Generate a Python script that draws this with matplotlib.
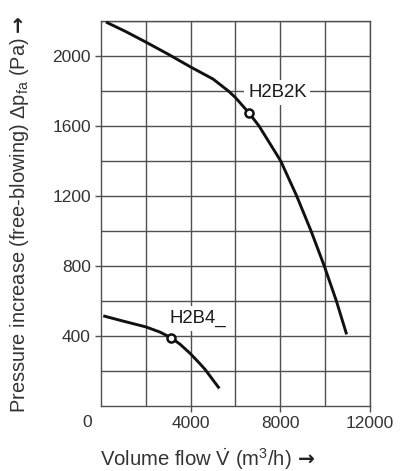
import matplotlib
matplotlib.use("Agg")
import matplotlib.pyplot as plt

# Data
h2b2k_flow = [223, 1100, 1993, 3000, 4000, 5000, 5681, 6000, 6602, 7048, 8016, 8728, 9368, 9958, 10498, 10957]
h2b2k_pres = [2194, 2140, 2080, 2010, 1937, 1868, 1800, 1762, 1674, 1600, 1400, 1200, 1000, 800, 600, 408]
h2b2k_pt = (6602, 1674)
h2b4_flow = [103, 923, 1993, 2632, 3123, 3524, 3970, 4416, 4640, 5278]
h2b4_pres = [514, 486, 451, 421, 389, 352, 300, 240, 208, 99]
h2b4_pt = (3123, 389)
labels = ['H2B2K', 'H2B4_']
label_pos = [(7871, 1790), (4305, 497)]
xticks = [4000, 8000, 12000]
yticks = [400, 800, 1200, 1600, 2000]

plt.rcParams['font.family'] = ['Liberation Sans', 'DejaVu Sans']
plt.rcParams['mathtext.fontset'] = 'custom'
plt.rcParams['mathtext.rm'] = 'Liberation Sans'
plt.rcParams['mathtext.it'] = 'Liberation Sans:italic'
plt.rcParams['mathtext.bf'] = 'Liberation Sans:bold'

txt_c = '#333333'
grid_c = '#505050'
W, H = 402, 471

fig = plt.figure(figsize=(4.02, 4.71), dpi=100)
ax = fig.add_axes([0.2512, 0.1386, 0.6692, 0.8168])
ax.set_xlim(0, 12000)
ax.set_ylim(0, 2200)

for x in range(2000, 12001, 2000):
    ax.axvline(x, color=grid_c, lw=1.0, zorder=1)
for y in range(200, 2201, 200):
    ax.axhline(y, color=grid_c, lw=1.0, zorder=1)
for s in ax.spines.values():
    s.set_color(grid_c)
    s.set_linewidth(1.0)

ax.set_xticks(xticks)
ax.set_xticklabels([str(v) for v in xticks])
ax.set_yticks(yticks)
ax.set_yticklabels([str(v) for v in yticks])
ax.tick_params(direction='out', length=4.3, width=1.0, color=grid_c,
               labelsize=12.5, labelcolor=txt_c, pad=3)
ax.annotate('0', xy=(0, 0), xycoords='data', xytext=(-14, -16.5),
            textcoords='offset pixels', ha='center', va='center',
            fontsize=12.5, color=txt_c, annotation_clip=False)

ax.plot(h2b2k_flow, h2b2k_pres, color='#111111', lw=2.1, zorder=3,
        solid_capstyle='butt', solid_joinstyle='round')
ax.plot(h2b4_flow, h2b4_pres, color='#111111', lw=2.1, zorder=3,
        solid_capstyle='butt', solid_joinstyle='round')
ax.plot(*h2b2k_pt, 'o', ms=5.8, mfc='white', mec='#111111', mew=1.8, zorder=4)
ax.plot(*h2b4_pt, 'o', ms=5.8, mfc='white', mec='#111111', mew=1.8, zorder=4)

bb = dict(facecolor='white', edgecolor='none', boxstyle='square,pad=0.2')
for lab, (lx, ly) in zip(labels, label_pos):
    ax.text(lx, ly, lab, ha='center', va='center', fontsize=13.4,
            color='#1a1a1a', bbox=bb, zorder=5)

# axis titles with heavier arrows
yl = fig.text(25 / W, 1 - 413 / H,
              'Pressure increase (free-blowing) Δp$_{\\mathrm{fa}}$ (Pa)',
              rotation=90, rotation_mode='anchor', ha='left', va='baseline',
              fontsize=14.4, color=txt_c)
xl = fig.text(100 / W, 1 - 465.5 / H, 'Volume flow $\\dot{\\mathrm{V}}$ (m$^3$/h)',
              ha='left', va='baseline', fontsize=14.6, color=txt_c)
r = fig.canvas.get_renderer()
ybb = yl.get_window_extent(r)
xbb = xl.get_window_extent(r)
fig.text(25 / W, (ybb.y1 + 5) / H, '→', rotation=90, rotation_mode='anchor',
         ha='left', va='baseline', fontsize=14.5, fontweight='bold',
         family='DejaVu Sans', color='#222222')
fig.text((xbb.x1 + 6) / W, 1 - 465.5 / H, '→', ha='left', va='baseline',
         fontsize=14.5, fontweight='bold', family='DejaVu Sans', color='#222222')

fig.savefig('out.png', dpi=100)
